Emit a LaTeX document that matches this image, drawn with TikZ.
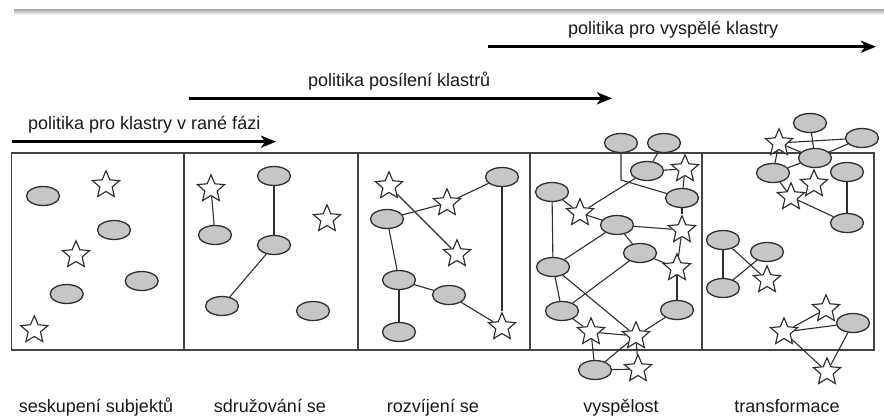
\documentclass[tikz,border=0pt]{standalone}
\usepackage{fontspec}
\setmainfont{Liberation Sans}
\usetikzlibrary{shapes.geometric,arrows.meta}
\pgfdeclarelayer{background}
\pgfsetlayers{background,main}
\definecolor{ink}{HTML}{2E2E2E}
\definecolor{cellfill}{HTML}{C6C6C6}
\tikzset{
  ell/.style={ellipse, draw=ink, line width=1.3pt, fill=cellfill, minimum width=33pt, minimum height=19pt, inner sep=0pt},
  st/.style={star, star points=5, star point ratio=2.2, draw=ink, line width=1.15pt, fill=white, minimum size=28.5pt, inner sep=0pt},
  link/.style={draw=ink, line width=1.1pt},
  frame/.style={draw=ink!90, line width=1.4pt},
  policy/.style={line width=3pt, black, -{Stealth[length=15pt,width=12pt,inset=4pt]}},
  ptext/.style={anchor=base west, inner sep=0pt, text=black!90, font=\fontsize{18}{20}\selectfont},
  ltext/.style={anchor=base, inner sep=0pt, text=black!90, font=\fontsize{18}{20}\selectfont}
}
\begin{document}
\begin{tikzpicture}[x=1pt,y=-1pt]
\useasboundingbox (0,0) rectangle (884,416);
% top shadow band
\shade[top color=black!35, bottom color=white] (14,9) rectangle (884,15);

% policy arrows
\coordinate (a1s) at (12,141.7); \coordinate (a1e) at (276,141.7);
\coordinate (a2s) at (189,98.3); \coordinate (a2e) at (612,98.3);
\coordinate (a3s) at (488,46.7); \coordinate (a3e) at (876,46.7);
\draw[policy] (a1s) -- (a1e);
\draw[policy] (a2s) -- (a2e);
\draw[policy] (a3s) -- (a3e);
\node[ptext] (t1) at (28,129.5) {politika pro klastry v rané fázi};
\node[ptext] (t2) at (308,86.5) {politika posílení klastrů};
\node[ptext] (t3) at (568,34.3) {politika pro vyspělé klastry};

% frame
\coordinate (fA) at (11.5,153); \coordinate (fB) at (874,350);
\coordinate (d1t) at (184,153); \coordinate (d1b) at (184,350);
\coordinate (d2t) at (358,153); \coordinate (d2b) at (358,350);
\coordinate (d3t) at (530,153); \coordinate (d3b) at (530,350);
\coordinate (d4t) at (702,153); \coordinate (d4b) at (702,350);
\begin{pgfonlayer}{background}
\draw[frame] (fA) rectangle (fB);
\draw[frame] (d1t) -- (d1b);
\draw[frame] (d2t) -- (d2b);
\draw[frame] (d3t) -- (d3b);
\draw[frame] (d4t) -- (d4b);
\end{pgfonlayer}

% panel 1
\node[ell] (p1e1) at (43,196) {};
\node[st]  (p1s1) at (106,185) {};
\node[ell] (p1e2) at (114,230) {};
\node[st]  (p1s2) at (76,255) {};
\node[ell] (p1e3) at (141.7,281) {};
\node[ell] (p1e4) at (66.7,294) {};
\node[st]  (p1s3) at (34.3,330) {};

% panel 2
\node[st]  (p2s1) at (211,189) {};
\node[ell] (p2e1) at (274,176) {};
\node[st]  (p2s2) at (327,219) {};
\node[ell] (p2e2) at (215,235) {};
\node[ell] (p2e3) at (274,245) {};
\node[ell] (p2e4) at (222,306) {};
\node[ell] (p2e5) at (313,311) {};

% panel 3
\node[st]  (p3s1) at (389,186) {};
\node[ell] (p3e1) at (502,177) {};
\node[st]  (p3s2) at (447,203) {};
\node[ell] (p3e2) at (387,219) {};
\node[st]  (p3s3) at (457,254) {};
\node[ell] (p3e3) at (399,280) {};
\node[ell] (p3e4) at (449,295) {};
\node[ell] (p3e5) at (399,332) {};
\node[st]  (p3s4) at (502,327) {};

% panel 4
\node[ell] (p4a) at (621,143) {};
\node[ell] (p4b) at (664,143) {};
\node[ell] (p4c) at (647,171) {};
\node[st]  (p4d) at (685,169) {};
\node[ell] (p4e) at (682,198) {};
\node[ell] (p4f) at (552,192) {};
\node[st]  (p4g) at (580,213) {};
\node[ell] (p4h) at (617,225) {};
\node[st]  (p4i) at (682,230) {};
\node[ell] (p4j) at (640,253) {};
\node[ell] (p4k) at (553,267) {};
\node[st]  (p4l) at (677,268) {};
\node[ell] (p4m) at (562,311) {};
\node[ell] (p4n) at (677,310) {};
\node[st]  (p4o) at (591,332) {};
\node[st]  (p4p) at (636,336) {};
\node[ell] (p4q) at (595,370) {};
\node[st]  (p4r) at (638,369) {};
\coordinate (p4bend) at (621,180);

% panel 5
\node[ell] (p5a) at (810,123) {};
\node[ell] (p5b) at (862,138) {};
\node[st]  (p5c) at (779,143) {};
\node[ell] (p5d) at (815,158) {};
\node[ell] (p5e) at (773,173) {};
\node[ell] (p5f) at (847,172) {};
\node[st]  (p5g) at (814,184) {};
\node[st]  (p5h) at (791,197) {};
\node[ell] (p5i) at (847,223) {};
\node[ell] (p5j) at (723,240) {};
\node[ell] (p5k) at (767,252) {};
\node[st]  (p5l) at (767,280) {};
\node[ell] (p5m) at (723,288) {};
\node[st]  (p5n) at (826,309) {};
\node[ell] (p5o) at (853,323) {};
\node[st]  (p5p) at (784,332) {};
\node[st]  (p5q) at (827,372) {};

\begin{pgfonlayer}{background}
% panel 2 links
\draw[link] (p2s1) -- (p2e2);
\draw[link] (p2e1) -- (p2e3);
\draw[link] (p2e3) -- (p2e4);
% panel 3 links
\draw[link] (p3e2) -- (p3s2);
\draw[link] (p3s2) -- (p3e1);
\draw[link] (p3s1) -- (p3s3);
\draw[link] (p3e2) -- (p3e3);
\draw[link] (p3e3) -- (p3e4);
\draw[link] (p3e4) -- (p3s4);
\draw[link] (p3e1) -- (p3s4);
\draw[link] (p3e3) -- (p3e5);
% panel 4 links
\draw[link] (p4a.south) -- (p4bend) -- (p4e);
\draw[link] (p4b) -- (p4c);
\draw[link] (p4c) -- (p4d);
\draw[link] (p4d) -- (p4e);
\draw[link] (p4c) -- (p4g);
\draw[link] (p4f) -- (p4g);
\draw[link] (p4f) -- (p4k);
\draw[link] (p4g) -- (p4h);
\draw[link] (p4h) -- (p4i);
\draw[link] (p4e) -- (p4i);
\draw[link] (p4h) -- (p4j);
\draw[link] (p4h) -- (p4k);
\draw[link] (p4i) -- (p4l);
\draw[link] (p4j) -- (p4l);
\draw[link] (p4j) -- (p4m);
\draw[link] (p4k) -- (p4m);
\draw[link] (p4k) -- (p4p);
\draw[link] (p4l) -- (p4n);
\draw[link] (p4n) -- (p4p);
\draw[link] (p4m) -- (p4o);
\draw[link] (p4o) -- (p4p);
\draw[link] (p4o) -- (p4q);
\draw[link] (p4q) -- (p4p);
\draw[link] (p4q) -- (p4r);
\draw[link] (p4p) -- (p4r);
% panel 5 links
\draw[link] (p5a) -- (p5d);
\draw[link] (p5c) -- (p5b);
\draw[link] (p5d) -- (p5b);
\draw[link] (p5c) -- (p5d);
\draw[link] (p5e) -- (p5c);
\draw[link] (p5e) -- (p5d);
\draw[link] (p5e) -- (p5h);
\draw[link] (p5h) -- (p5i);
\draw[link] (p5f) -- (p5i);
\draw[link] (p5j) -- (p5m);
\draw[link] (p5j) -- (p5l);
\draw[link] (p5m) -- (p5k);
\draw[link] (p5p) -- (p5n);
\draw[link] (p5p) -- (p5o);
\draw[link] (p5o) -- (p5q);
\draw[link] (p5p) -- (p5q);
\end{pgfonlayer}

% stage labels
\node[ltext] (l1) at (96,412) {seskupení subjektů};
\node[ltext] (l2) at (270,412) {sdružování se};
\node[ltext] (l3) at (433,412) {rozvíjení se};
\node[ltext] (l4) at (621,412) {vyspělost};
\node[ltext] (l5) at (787,412) {transformace};
\end{tikzpicture}
\end{document}
